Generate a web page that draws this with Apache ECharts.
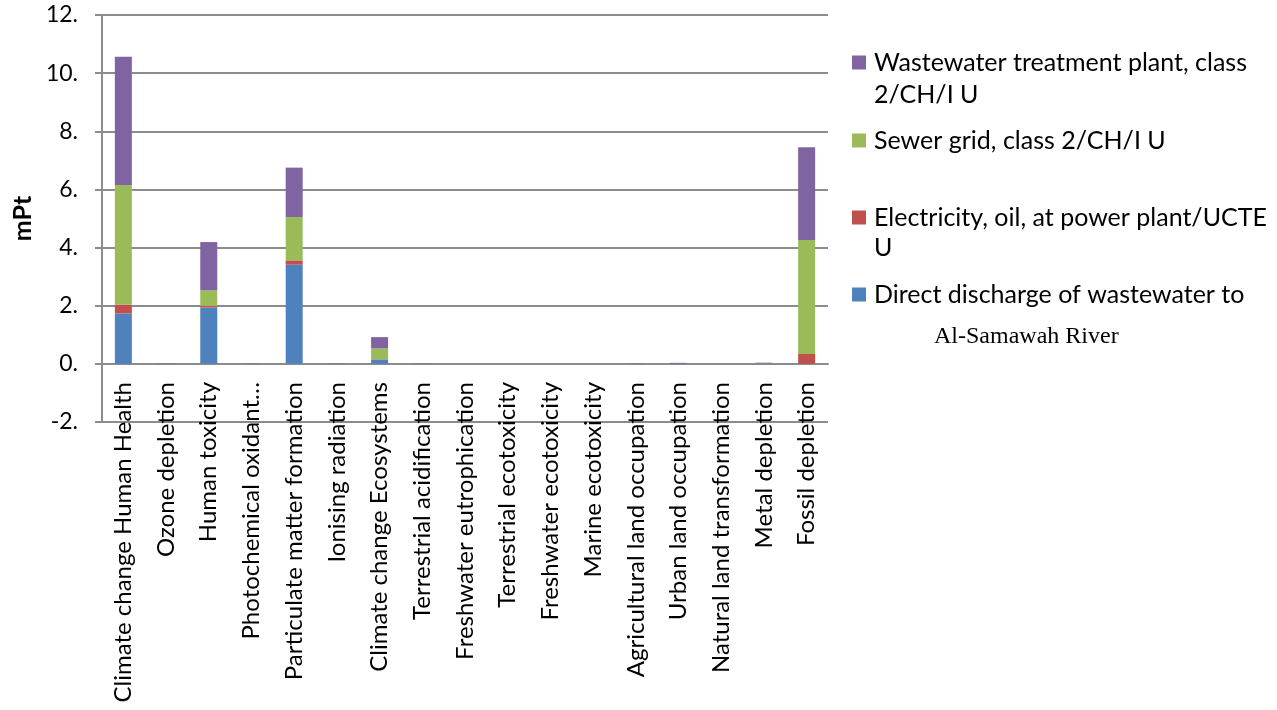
<!DOCTYPE html>
<html>
<head>
<meta charset="utf-8">
<script src="https://cdn.jsdelivr.net/npm/echarts@6/dist/echarts.min.js"></script>
<style>
html,body{margin:0;padding:0;background:#fff;}
#c{width:1277px;height:710px;}
</style>
</head>
<body>
<div id="c"></div>
<script>
const categories = [
  'Climate change Human Health','Ozone depletion','Human toxicity','Photochemical oxidant…',
  'Particulate matter formation','Ionising radiation','Climate change Ecosystems','Terrestrial acidification',
  'Freshwater eutrophication','Terrestrial ecotoxicity','Freshwater ecotoxicity','Marine ecotoxicity',
  'Agricultural land occupation','Urban land occupation','Natural land transformation','Metal depletion','Fossil depletion'
];
const directDischarge = [1.73, 0, 1.94, 0, 3.41, 0.005, 0.15, 0, 0, 0, 0, 0, 0, 0, 0, 0, 0];
const electricityOil  = [0.31, 0.005, 0.05, 0.005, 0.15, 0, 0.01, 0.005, 0, 0, 0, 0, 0.005, 0, 0, 0, 0.34];
const sewerGrid       = [4.11, 0, 0.54, 0, 1.49, 0, 0.37, 0, 0, 0, 0, 0, 0, 0.005, 0, 0.01, 3.92];
const wwtp            = [4.41, 0.005, 1.66, 0.005, 1.70, 0.01, 0.39, 0.005, 0, 0, 0, 0, 0.005, 0.03, 0, 0.03, 3.19];
const yTicks = { min: -2, max: 12, interval: 2 };

const names = {
  direct: 'Direct discharge of wastewater to Al-Samawah River',
  elec: 'Electricity, oil, at power plant/UCTE U',
  sewer: 'Sewer grid, class 2/CH/I U',
  wwtp: 'Wastewater treatment plant, class 2/CH/I U'
};
const firstLines = {};
firstLines[names.direct] = 'Direct discharge of wastewater to';
firstLines[names.elec] = 'Electricity, oil, at power plant/UCTE';
firstLines[names.sewer] = 'Sewer grid, class 2/CH/I U';
firstLines[names.wwtp] = 'Wastewater treatment plant, class';

const FONT = 'Lato';
const colors = { direct: '#4F81BD', elec: '#C0504D', sewer: '#9BBB59', wwtp: '#8064A2' };

function legendAt(name, top) {
  return {
    data: [name], left: 852, top: top, orient: 'vertical',
    icon: 'rect', itemWidth: 14, itemHeight: 14, padding: 0,
    selectedMode: false,
    formatter: n => firstLines[n],
    textStyle: { fontFamily: FONT, fontSize: 25, color: '#000', padding: [0, 0, 0, 3] }
  };
}

const chart = echarts.init(document.getElementById('c'));
function bar(key, data) {
  return {
    name: names[key], type: 'bar', stack: 'total', data: data, barWidth: 17,
    itemStyle: { color: colors[key] }
  };
}
chart.setOption({
  animation: false,
  grid: { left: 102, right: 449, top: 15, bottom: 288, containLabel: false, outerBoundsMode: 'none' },
  legend: [
    legendAt(names.wwtp, 50),
    legendAt(names.sewer, 128),
    legendAt(names.elec, 205),
    legendAt(names.direct, 282)
  ],
  xAxis: {
    type: 'category', data: categories,
    offset: -58,
    axisLine: { onZero: false, lineStyle: { color: '#8c8c8c', width: 2 } },
    axisTick: { show: false },
    axisLabel: { rotate: 90, interval: 0, margin: 18, fontFamily: FONT, fontSize: 24, color: '#000' }
  },
  yAxis: {
    type: 'value', min: yTicks.min, max: yTicks.max, interval: yTicks.interval,
    name: 'mPt', nameLocation: 'middle', nameGap: 64, nameRotate: 90,
    nameTextStyle: { fontFamily: FONT, fontSize: 25, fontWeight: 'bold', color: '#000' },
    axisLine: { show: true, lineStyle: { color: '#8c8c8c', width: 2 } },
    axisTick: { show: true, length: 7, lineStyle: { color: '#8c8c8c', width: 2 } },
    splitLine: { lineStyle: { color: '#8c8c8c', width: 2 } },
    axisLabel: { margin: 24, fontFamily: FONT, fontSize: 23, color: '#000', formatter: v => v.toFixed(0) + '.' }
  },
  graphic: [
    { type: 'text', left: 874, top: 82, style: { text: '2/CH/I U', font: '25px ' + FONT, fill: '#000' } },
    { type: 'text', left: 874, top: 235, style: { text: 'U', font: '25px ' + FONT, fill: '#000' } },
    { type: 'text', left: 934, top: 325, style: { text: 'Al-Samawah River', font: '24px "Liberation Serif"', fill: '#000' } }
  ],
  series: [
    bar('direct', directDischarge),
    bar('elec', electricityOil),
    bar('sewer', sewerGrid),
    bar('wwtp', wwtp)
  ]
});
</script>
</body>
</html>
